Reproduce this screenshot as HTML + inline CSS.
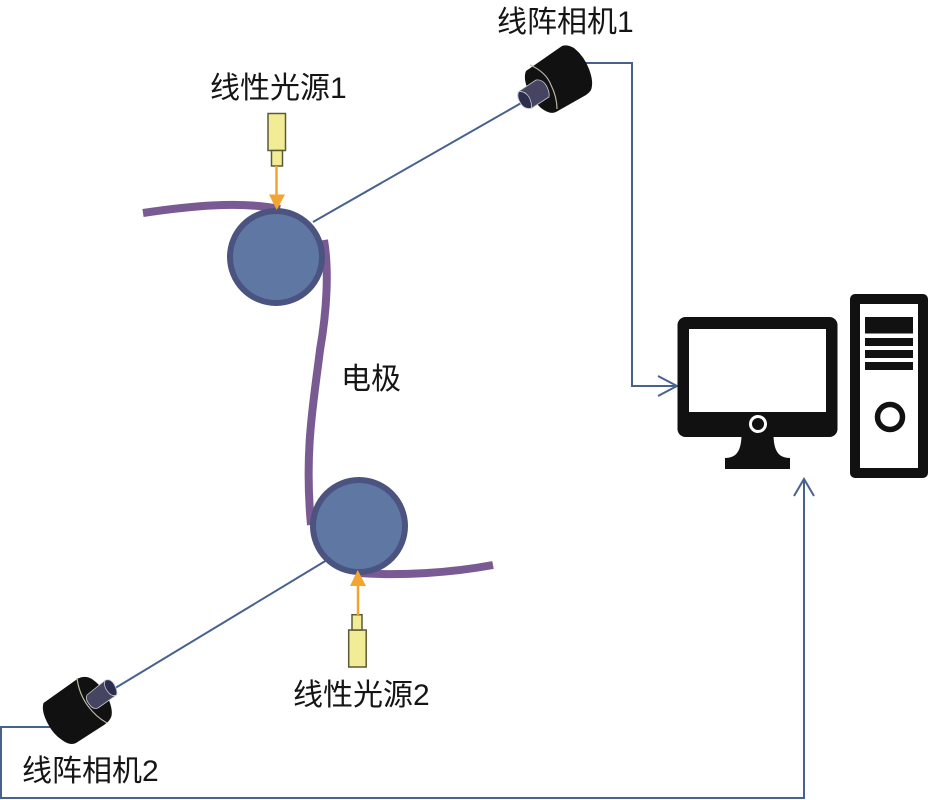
<!DOCTYPE html>
<html>
<head>
<meta charset="utf-8">
<style>
html,body{margin:0;padding:0;background:#fff;width:930px;height:800px;overflow:hidden}
svg{display:block}
text{font-family:"Liberation Sans","Noto Sans CJK SC",sans-serif;font-size:30px;fill:#151515}
</style>
</head>
<body>
<svg width="930" height="800" viewBox="0 0 930 800" xmlns="http://www.w3.org/2000/svg">
  <!-- connectors -->
  <g fill="none" stroke="#48628f" stroke-width="2">
    <path d="M313,222L530,98"/>
    <path d="M327,560L112,690"/>
    <path d="M585,63H632V386H677"/>
    <path d="M658,376L677,386L658,396"/>
    <path d="M50,727H1V798H804V479"/>
    <path d="M794,496L804,479L814,496"/>
  </g>

  <!-- electrode -->
  <g fill="none" stroke="#7a5a93" stroke-width="8">
    <path d="M143,213C190,206 240,201 280,209"/>
    <path d="M324,240C329,270 327,310 320,350C314,400 304,450 311,525"/>
    <path d="M359,573C400,576 450,573 493,565"/>
  </g>

  <!-- rollers -->
  <circle cx="276" cy="257" r="46" fill="#5f77a3" stroke="#4b5480" stroke-width="6"/>
  <circle cx="359" cy="526" r="46" fill="#5f77a3" stroke="#4b5480" stroke-width="6"/>

  <!-- light source 1 -->
  <g fill="#f3ec96" stroke="#5c5a35" stroke-width="1.500">
    <rect x="268" y="113.500" width="17.500" height="37"/>
    <rect x="271.500" y="150.500" width="11" height="15.500"/>
  </g>
  <path d="M276.500,166V196" stroke="#f2a531" stroke-width="2.500"/>
  <path d="M269,194.500H285L276.700,210Z" fill="#f2a531"/>

  <!-- light source 2 -->
  <g fill="#f3ec96" stroke="#5c5a35" stroke-width="1.500">
    <rect x="348.700" y="630" width="17.500" height="37"/>
    <rect x="352" y="614.700" width="10" height="15.300"/>
  </g>
  <path d="M358,615V584" stroke="#f2a531" stroke-width="2.500"/>
  <path d="M350,586H366L357.700,570Z" fill="#f2a531"/>

  <!-- camera 1 -->
  <path d="M526,71L562,46Q567,44 574,48Q584,56 589,69Q594,82 591,90Q590,92 586,95L556,112Q550,115 541,108Q533,101 528,90Q523,78 526,71Z" fill="#111"/>
  <path d="M530,65Q546,72 551,85Q557,97 557,109" fill="none" stroke="#b9b5a5" stroke-width="1.200"/>
  <path d="M518.300,91.700L536,80Q542,79 546,85Q550,92 549,97L532,108Q526,110 521,104Q516,97 518.300,91.700Z" fill="#454562" stroke="#c9c9d2" stroke-width="0.800"/>
  <path d="M519,91.500Q525,91 529,97Q532,103 531.500,108Q525,110 521,104Q516,96 519,91.500Z" fill="#2d2d4d" stroke="#c9c9d2" stroke-width="0.800"/>

  <!-- camera 2 -->
  <path d="M43.500,703L78,678.500Q85,675 92,679Q102,686 107,696Q113,708 111.500,716Q110,721 104,725L76,743Q70,746 62,740Q53,734 48,724Q41,711 43.500,703Z" fill="#111"/>
  <path d="M77,678Q79,694 88,706Q96,717 107,723" fill="none" stroke="#b9b5a5" stroke-width="1.200"/>
  <path d="M87,695L105,680.500Q110,678 114,684Q118,691 116.500,695L98,708Q93,710 89,704Q85,699 87,695Z" fill="#454562" stroke="#c9c9d2" stroke-width="0.800"/>
  <path d="M105,680.500Q110,678 114,684Q118,691 116.500,695Q112,697 108,692Q103,686 105,680.500Z" fill="#2d2d4d" stroke="#c9c9d2" stroke-width="0.800"/>

  <!-- monitor -->
  <rect x="677.500" y="317" width="160" height="120" rx="8" fill="#111"/>
  <rect x="689" y="329" width="137" height="83" fill="#fff"/>
  <circle cx="758" cy="424" r="7.500" fill="#111" stroke="#fff" stroke-width="3"/>
  <path d="M741.500,436H773.500C774,450 778,458 790,458V469H725V458C737,458 741,450 741.500,436Z" fill="#111"/>

  <!-- tower -->
  <rect x="850" y="294" width="78" height="184" rx="5" fill="#111"/>
  <rect x="860" y="304" width="58" height="164" fill="#fff"/>
  <rect x="865" y="317" width="48" height="16.500" fill="#111"/>
  <rect x="865" y="338" width="48" height="8" fill="#111"/>
  <rect x="865" y="350" width="48" height="8" fill="#111"/>
  <rect x="865" y="362" width="48" height="8" fill="#111"/>
  <circle cx="890" cy="417" r="12.500" fill="#fff" stroke="#111" stroke-width="5.500"/>

  <!-- labels -->
  <text x="497" y="32">线阵相机1</text>
  <text x="210" y="98">线性光源1</text>
  <text x="341" y="389">电极</text>
  <text x="293" y="705">线性光源2</text>
  <text x="22" y="781">线阵相机2</text>
</svg>
</body>
</html>
